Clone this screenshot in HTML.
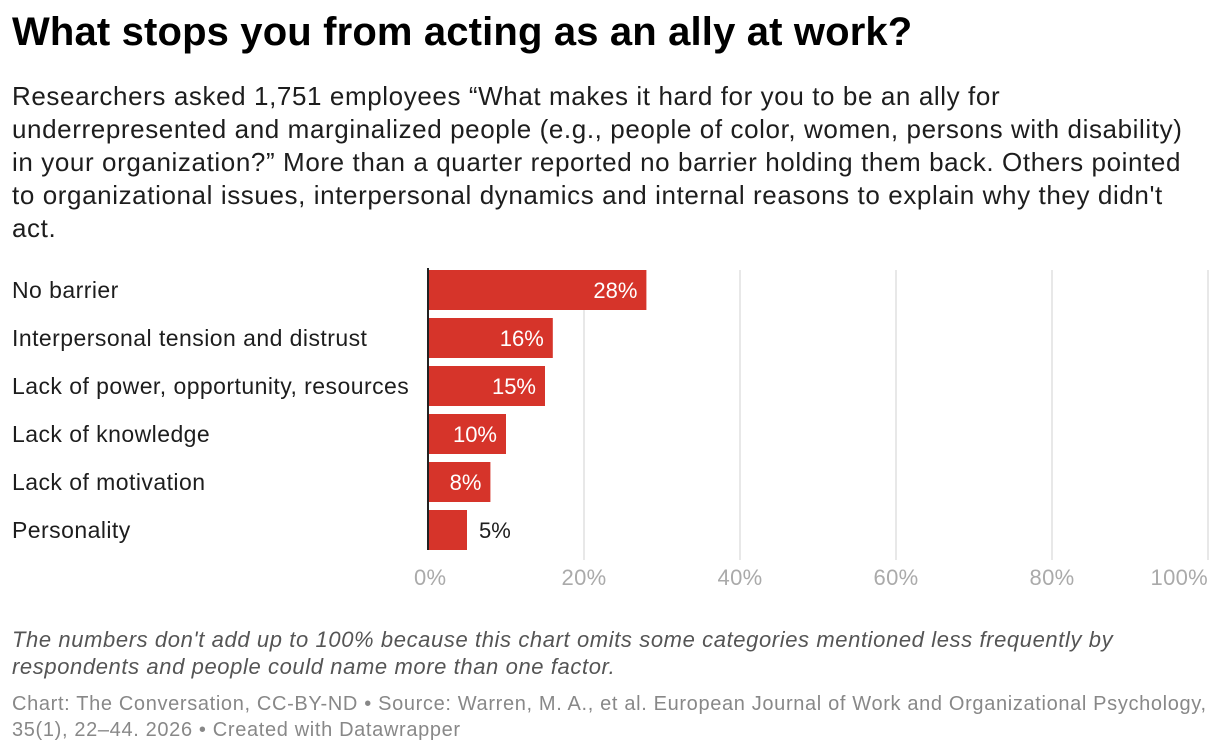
<!DOCTYPE html>
<html><head><meta charset="utf-8"><style>
body{margin:0;width:1220px;height:754px;background:#fff;font-family:"Liberation Sans",Arial,sans-serif;color:#000;position:relative;overflow:hidden}
.t{position:absolute;left:12px;top:10px;font-size:40px;font-weight:bold;margin:0;letter-spacing:0.15px;white-space:nowrap}
.s{position:absolute;left:12px;top:80px;font-size:26px;line-height:33px;color:#1d1d1d;white-space:nowrap;letter-spacing:0.6px}
.n{position:absolute;left:12px;top:626px;font-size:22px;line-height:27px;font-style:italic;color:#555;white-space:nowrap;letter-spacing:0.6px}
.src{position:absolute;left:12px;top:691px;font-size:20px;line-height:26px;color:#888;white-space:nowrap;letter-spacing:0.65px}
</style></head><body>
<h1 class="t">What stops you from acting as an ally at work?</h1>
<div class="s">Researchers asked 1,751 employees “What makes it hard for you to be an ally for<br>underrepresented and marginalized people (e.g., people of color, women, persons with disability)<br>in your organization?” More than a quarter reported no barrier holding them back. Others pointed<br>to organizational issues, interpersonal dynamics and internal reasons to explain why they didn't<br>act.</div>
<svg id="c" width="1220" height="754" style="position:absolute;left:0;top:0"></svg>
<div class="n">The numbers don't add up to 100% because this chart omits some categories mentioned less frequently by<br>respondents and people could name more than one factor.</div>
<div class="src">Chart: The Conversation, CC-BY-ND • Source: Warren, M. A., et al. European Journal of Work and Organizational Psychology,<br>35(1), 22–44. 2026 • Created with Datawrapper</div>
<script>
const categories=["No barrier","Interpersonal tension and distrust","Lack of power, opportunity, resources","Lack of knowledge","Lack of motivation","Personality"];
const values=[28,16,15,10,8,5];
const ticks=[0,20,40,60,80,100];
const tickLabels=["0%","20%","40%","60%","80%","100%"];
const NS="http://www.w3.org/2000/svg",svg=document.getElementById('c');
const x=v=>428+v*7.8, y=i=>270+i*48;
function mk(t,a,txt){const e=document.createElementNS(NS,t);for(const k in a)e.setAttribute(k,a[k]);if(txt!=null)e.textContent=txt;svg.appendChild(e);return e;}
ticks.forEach((t,i)=>{
 if(t>0){const g=mk('line',{x1:x(t),x2:x(t),y1:270,y2:560,stroke:'#e0e0e0','stroke-width':1.5});
 
 }
 const anchor=i==0?'start':i==ticks.length-1?'end':'middle';
 const l=mk('text',{x:i==0?x(t)-14:x(t),y:585,'font-size':22,fill:'#aaa','text-anchor':anchor,'letter-spacing':0.3,'font-family':'Liberation Sans, sans-serif'},tickLabels[i]);
 
 
});
categories.forEach((c,i)=>{
 const l=mk('text',{x:12,y:y(i)+28,'font-size':23,'letter-spacing':0.45,fill:'#1d1d1d','font-family':'Liberation Sans, sans-serif'},c);
 
 
 const b=mk('rect',{x:x(0),y:y(i),width:x(values[i])-x(0),height:40,fill:'#d6342a'});
 
 
 const inside=values[i]>=8;
 const v=mk('text',{x:inside?x(values[i])-9:x(values[i])+12,y:y(i)+28,'font-size':22,fill:inside?'#fff':'#1d1d1d','text-anchor':inside?'end':'start','font-family':'Liberation Sans, sans-serif'},values[i]+'%');
 
 
});
const ax=mk('line',{x1:x(0),x2:x(0),y1:268,y2:550,stroke:'#222','stroke-width':2});


</script>
</body></html>
